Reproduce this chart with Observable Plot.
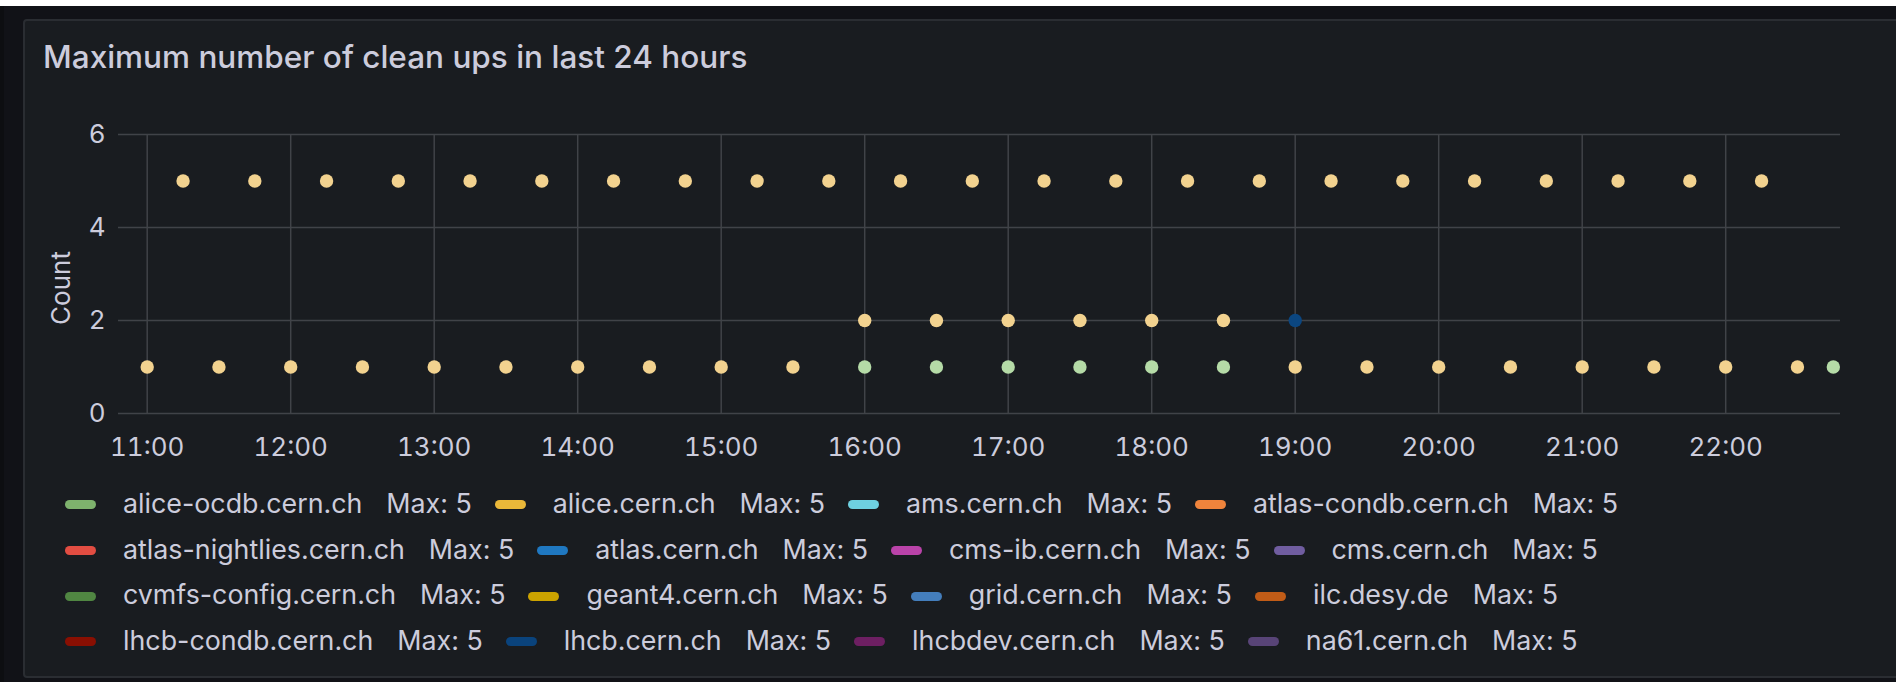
<!DOCTYPE html>
<html>
<head>
<meta charset="utf-8">
<script src="https://cdn.jsdelivr.net/npm/d3@7"></script>
<script src="https://cdn.jsdelivr.net/npm/@observablehq/plot@0.6"></script>
<style>
  html, body { margin: 0; padding: 0; }
  body { width: 1896px; height: 682px; background: #111217; position: relative; overflow: hidden; font-family: Inter, "Noto Sans", sans-serif; color: #ccccdc; }
  #topband { position: absolute; left: 0; top: 0; width: 1896px; height: 6px; background: #ffffff; }
  #leftband { position: absolute; left: 0; top: 6px; width: 4px; height: 676px; background: #0d0e11; }
  #panel { position: absolute; left: 23px; top: 19px; width: 1890px; height: 655px; background: #191c20; border: 2px solid #2a2d32; border-radius: 4px; }
  #title { position: absolute; left: 43px; top: 41px; font-size: 31.5px; line-height: 31.5px; font-weight: 500; white-space: nowrap; color: #ccccdc; }
  #chart { position: absolute; left: 0; top: 0; }
  #ylabel { position: absolute; left: 0; top: 0; }
  #legend { position: absolute; left: 65px; top: 480px; width: 1815px; display: flex; flex-wrap: wrap; }
  .item { display: flex; align-items: center; height: 45.7px; margin-right: 23px; font-size: 26.8px; white-space: nowrap; }
  .sw { width: 31px; height: 9px; border-radius: 4.5px; margin-right: 27px; transform: translateY(2px); }
  .val { margin-left: 24px; }
</style>
</head>
<body>
<div id="topband"></div>
<div id="leftband"></div>
<div id="panel"></div>
<div id="title">Maximum number of clean ups in last 24 hours</div>
<div id="chart"></div>
<svg id="ylabel" width="120" height="470"><text transform="translate(70,288) rotate(-90)" text-anchor="middle" fill="#ccccdc" font-family="Inter, sans-serif" font-size="26">Count</text></svg>
<div id="legend"></div>
<script>
// ---- data ----
const day = "2024-01-01";
const xDomain = ["10:48", "22:48"];
const xTickLabels = ["11:00","12:00","13:00","14:00","15:00","16:00","17:00","18:00","19:00","20:00","21:00","22:00"];
const yTicks = [0, 2, 4, 6];

// alice.cern.ch
const aliceCernAt5 = ["11:15","11:45","12:15","12:45","13:15","13:45","14:15","14:45","15:15","15:45","16:15","16:45","17:15","17:45","18:15","18:45","19:15","19:45","20:15","20:45","21:15","21:45","22:15"];
const aliceCernAt2 = ["16:00","16:30","17:00","17:30","18:00","18:30"];
const aliceCernAt1 = ["11:00","11:30","12:00","12:30","13:00","13:30","14:00","14:30","15:00","15:30","19:00","19:30","20:00","20:30","21:00","21:30","22:00","22:30"];
// alice-ocdb.cern.ch
const aliceOcdbAt1 = ["16:00","16:30","17:00","17:30","18:00","18:30","22:45"];
// lhcb.cern.ch
const lhcbAt2 = ["19:00"];

const pointSeries = ["alice.cern.ch", "alice-ocdb.cern.ch", "lhcb.cern.ch"];
const pointColors = ["#f2d28f", "#b5dba7", "#0b4680"];

const legendNames = ["alice-ocdb.cern.ch","alice.cern.ch","ams.cern.ch","atlas-condb.cern.ch","atlas-nightlies.cern.ch","atlas.cern.ch","cms-ib.cern.ch","cms.cern.ch","cvmfs-config.cern.ch","geant4.cern.ch","grid.cern.ch","ilc.desy.de","lhcb-condb.cern.ch","lhcb.cern.ch","lhcbdev.cern.ch","na61.cern.ch"];
const legendColors = ["#7eb26d","#eab839","#6ed0e0","#ef843c","#e24d42","#1f78c1","#ba43a9","#705da0","#508642","#cca300","#447ebc","#c15c17","#890f02","#0a437c","#6d1f62","#584477"];
const legendMax = [5,5,5,5,5,5,5,5,5,5,5,5,5,5,5,5];

// ---- build ----
const toDate = t => new Date(`${day}T${t}:00Z`);
const rows = [];
aliceCernAt5.forEach(t => rows.push({series: "alice.cern.ch", time: toDate(t), value: 5}));
aliceCernAt2.forEach(t => rows.push({series: "alice.cern.ch", time: toDate(t), value: 2}));
aliceCernAt1.forEach(t => rows.push({series: "alice.cern.ch", time: toDate(t), value: 1}));
aliceOcdbAt1.forEach(t => rows.push({series: "alice-ocdb.cern.ch", time: toDate(t), value: 1}));
lhcbAt2.forEach(t => rows.push({series: "lhcb.cern.ch", time: toDate(t), value: 2}));

const xTicks = xTickLabels.map(toDate);
const gridStyle = {stroke: "#404348", strokeOpacity: 1, strokeWidth: 1.5};

const chart = Plot.plot({
  width: 1896,
  height: 470,
  marginLeft: 118,
  marginRight: 56,
  marginTop: 134,
  marginBottom: 57,
  style: {background: "transparent", color: "#ccccdc", fontFamily: "Inter, sans-serif", fontSize: "26px"},
  x: {type: "utc", domain: xDomain.map(toDate)},
  y: {domain: [0, 6]},
  color: {domain: pointSeries, range: pointColors},
  marks: [
    Plot.gridX(xTicks, gridStyle),
    Plot.gridY(yTicks, gridStyle),
    Plot.axisX(xTicks, {tickSize: 0, tickPadding: 24, tickFormat: d3.utcFormat("%H:%M"), label: null, fill: "#ccccdc"}),
    Plot.axisY(yTicks, {tickSize: 0, tickPadding: 13, label: null, fill: "#ccccdc"}),
    Plot.dot(rows, {x: "time", y: "value", fill: "series", r: 6.7})
  ]
});
document.getElementById("chart").appendChild(chart);

const legend = document.getElementById("legend");
legendNames.forEach((name, i) => {
  const item = document.createElement("div");
  item.className = "item";
  const sw = document.createElement("div");
  sw.className = "sw";
  sw.style.background = legendColors[i];
  const lab = document.createElement("span");
  lab.textContent = name;
  const val = document.createElement("span");
  val.className = "val";
  val.textContent = "Max: " + legendMax[i];
  item.append(sw, lab, val);
  legend.appendChild(item);
});
</script>
</body>
</html>
